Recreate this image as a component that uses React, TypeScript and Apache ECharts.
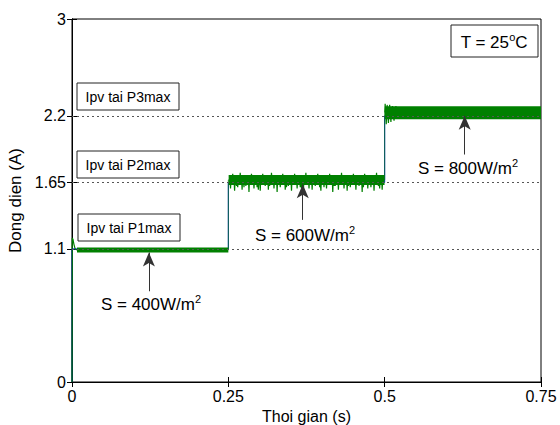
import React, { useEffect, useRef } from "react";
import * as echarts from "echarts";

// ---- axes ----
const xTicks = [0, 0.25, 0.5, 0.75];
const yTicks = [0, 1.1, 1.65, 2.2, 3];
const gridLevels = [1.1, 1.65, 2.2];

// ---- reference current (blue step) ----
const refTime = [0, 0, 0.25, 0.25, 0.5, 0.5, 0.75];
const refCurrent = [0, 1.1, 1.1, 1.65, 1.65, 2.2, 2.2];

// ---- measured current (green) ----
const startTime = [0, 0.0004, 0.0015, 0.003, 0.005, 0.008];
const startCurrent = [0, 1.19, 1.18, 1.14, 1.1, 1.09];

const riserTime = [0.25, 0.25, 0.5, 0.5];
const riserCurrent = [1.09, 1.67, 1.67, 2.225];

// ripple bands (centre of the ripple, per irradiance step)
const band1Time = [0.008, 0.25];
const band1Current = [1.09, 1.09];
const band2Time = [0.2505, 0.4998];
const band2Current = [1.67, 1.67];
const band3Time = [0.5005, 0.75];
const band3Current = [2.225, 2.225];

// ripple peaks
const seg2Spikes: [number, number][] = [
  [0.2535, 1.6], [0.257, 1.72], [0.26, 1.58], [0.263, 1.62], [0.265, 1.61], [0.269, 1.73],
  [0.272, 1.59], [0.275, 1.61], [0.278, 1.62], [0.283, 1.57], [0.287, 1.72], [0.291, 1.6],
  [0.296, 1.61], [0.298, 1.59], [0.301, 1.58], [0.305, 1.72], [0.309, 1.62], [0.314, 1.59],
  [0.316, 1.62], [0.319, 1.73], [0.323, 1.6], [0.328, 1.57], [0.333, 1.61], [0.337, 1.72],
  [0.341, 1.59], [0.343, 1.61], [0.346, 1.62], [0.351, 1.58], [0.356, 1.72], [0.36, 1.6],
  [0.365, 1.61], [0.367, 1.6], [0.37, 1.57], [0.374, 1.73], [0.379, 1.6], [0.384, 1.59],
  [0.389, 1.62], [0.393, 1.72], [0.396, 1.61], [0.398, 1.58], [0.403, 1.61], [0.407, 1.6],
  [0.412, 1.72], [0.417, 1.57], [0.419, 1.62], [0.421, 1.62], [0.426, 1.59], [0.431, 1.73],
  [0.435, 1.6], [0.44, 1.58], [0.442, 1.62], [0.445, 1.61], [0.45, 1.72], [0.454, 1.59],
  [0.459, 1.62], [0.464, 1.57], [0.466, 1.61], [0.468, 1.72], [0.473, 1.6], [0.478, 1.61],
  [0.483, 1.58], [0.487, 1.73], [0.49, 1.62], [0.492, 1.6], [0.496, 1.59],
];
const seg3Spikes: [number, number][] = [
  [0.5008, 2.3], [0.5025, 2.13], [0.504, 2.29], [0.506, 2.14], [0.508, 2.29],
  [0.51, 2.15], [0.5125, 2.28], [0.515, 2.16], [0.518, 2.28],
];

// ---- annotations ----
const arrowTime = [0.123, 0.369, 0.628];
const arrowFrom = [0.75, 1.34, 1.88];
const arrowTo = [1.07, 1.635, 2.2];

const FONT = "'Liberation Sans', Arial, sans-serif";
const GREEN = "#008000";

function zip(t: number[], v: number[]) {
  return t.map((x, i) => [x, v[i]]);
}

function spikePath(spikes: [number, number][], centre: number) {
  const out: number[][] = [];
  spikes.forEach(([t, v]) => {
    out.push([t - 0.0008, centre], [t, v], [t + 0.0008, centre]);
  });
  return out;
}

function boxLabel(x: number, y: number, w: number, h: number, text: string) {
  return {
    type: "group",
    x,
    y,
    children: [
      { type: "rect", shape: { x: 0, y: 0, width: w, height: h }, style: { fill: "#fff", stroke: "#222", lineWidth: 1 } },
      {
        type: "text",
        x: w / 2,
        y: h / 2,
        style: { text, fontSize: 14, fontFamily: FONT, fill: "#000", align: "center", verticalAlign: "middle" },
      },
    ],
  };
}

function supText(cx: number, cy: number, base: string, sup: string, tail = "") {
  return {
    type: "text",
    x: cx,
    y: cy,
    style: {
      text: `{a|${base}}{s|${sup}}` + (tail ? `{a|${tail}}` : ""),
      align: "center",
      verticalAlign: "middle",
      fill: "#000",
      rich: {
        a: { fontSize: 17, fontFamily: FONT, fill: "#000", lineHeight: 22 },
        s: { fontSize: 11, fontFamily: FONT, fill: "#000", lineHeight: 22, padding: [0, 0, 10, 0] },
      },
    },
  };
}

export default function App() {
  const ref = useRef<HTMLDivElement>(null);
  useEffect(() => {
    if (!ref.current) return;
    const chart = echarts.init(ref.current, undefined, { renderer: "svg" });
    const axisLine = { show: true, lineStyle: { color: "#000", width: 1 } };
    const tick = { show: true, inside: true, length: 5, lineStyle: { color: "#000", width: 1 } };
    chart.setOption({
      animation: false,
      backgroundColor: "#fff",
      grid: {
        left: 72,
        right: 19,
        top: 19,
        bottom: 43,
        show: true,
        borderColor: "#000",
        borderWidth: 1,
        containLabel: false,
        outerBoundsMode: "none",
      },
      xAxis: [
        {
          type: "value",
          min: 0,
          max: 0.75,
          interval: 0.25,
          position: "bottom",
          axisLine,
          axisTick: tick,
          axisLabel: {
            color: "#000",
            fontSize: 16,
            fontFamily: FONT,
            margin: 6,
            customValues: xTicks,
            formatter: (v: number) => String(v),
          },
          splitLine: { show: false },
          name: "Thoi gian (s)",
          nameLocation: "middle",
          nameGap: 22,
          nameTextStyle: { color: "#000", fontSize: 16, fontFamily: FONT },
        },
        {
          type: "value",
          min: 0,
          max: 0.75,
          interval: 0.25,
          position: "top",
          axisLine,
          axisTick: tick,
          axisLabel: { show: false },
          splitLine: { show: false },
        },
      ],
      yAxis: [
        {
          type: "value",
          min: 0,
          max: 3,
          position: "left",
          axisLine,
          axisTick: { ...tick, customValues: yTicks },
          axisLabel: {
            color: "#000",
            fontSize: 16,
            fontFamily: FONT,
            margin: 6,
            customValues: yTicks,
            formatter: (v: number) => String(v),
          },
          splitLine: { show: false },
          name: "Dong dien (A)",
          nameLocation: "middle",
          nameGap: 46,
          nameTextStyle: { color: "#000", fontSize: 17, fontFamily: FONT },
        },
        {
          type: "value",
          min: 0,
          max: 3,
          position: "right",
          axisLine,
          axisTick: { ...tick, customValues: yTicks },
          axisLabel: { show: false },
          splitLine: { show: false },
        },
      ],
      series: [
        {
          type: "line",
          name: "ref",
          z: 1,
          data: zip(refTime, refCurrent),
          showSymbol: false,
          lineStyle: { color: "#0000ff", width: 1 },
          markLine: {
            silent: true,
            symbol: "none",
            label: { show: false },
            lineStyle: { color: "#555", width: 1, type: [2, 3] },
            data: gridLevels.map((y) => ({ yAxis: y })),
          },
        },
        {
          type: "line",
          z: 2,
          data: zip(riserTime, riserCurrent),
          showSymbol: false,
          lineStyle: { color: GREEN, width: 1, opacity: 0.75 },
        },
        {
          type: "line",
          z: 3,
          data: zip(startTime, startCurrent),
          showSymbol: false,
          lineStyle: { color: GREEN, width: 1.2 },
        },
        {
          type: "line",
          z: 3,
          data: zip(band1Time, band1Current),
          showSymbol: false,
          lineStyle: { color: GREEN, width: 5, cap: "butt" },
        },
        {
          type: "line",
          z: 3,
          data: zip(band2Time, band2Current),
          showSymbol: false,
          lineStyle: { color: GREEN, width: 10, cap: "butt" },
        },
        {
          type: "line",
          z: 3,
          data: zip(band3Time, band3Current),
          showSymbol: false,
          lineStyle: { color: GREEN, width: 13, cap: "butt" },
        },
        {
          type: "line",
          z: 3,
          data: spikePath(seg2Spikes, 1.67),
          showSymbol: false,
          lineStyle: { color: GREEN, width: 1.2 },
        },
        {
          type: "line",
          z: 3,
          data: spikePath(seg3Spikes, 2.225),
          showSymbol: false,
          lineStyle: { color: GREEN, width: 1.2 },
        },
        {
          type: "line",
          z: 5,
          data: [],
          markLine: {
            silent: true,
            symbol: ["none", "arrow"],
            symbolSize: [9, 14],
            label: { show: false },
            lineStyle: { color: "#333", width: 1, type: "solid" },
            data: arrowTime.map((t, i) => [
              { coord: [t, arrowFrom[i]] },
              { coord: [t, arrowTo[i]] },
            ]),
          },
        },
      ],
      graphic: [
        boxLabel(77, 83, 102, 27, "Ipv tai P3max"),
        boxLabel(77, 151, 102, 27, "Ipv tai P2max"),
        boxLabel(78, 214, 102, 27, "Ipv tai P1max"),
        {
          type: "group",
          x: 451,
          y: 25,
          children: [
            { type: "rect", shape: { x: 0, y: 0, width: 87, height: 32 }, style: { fill: "#fff", stroke: "#222", lineWidth: 1 } },
          ],
        },
        supText(494, 42, "T = 25", "o", "C"),
        supText(151, 304, "S = 400W/m", "2"),
        supText(305, 235, "S = 600W/m", "2"),
        supText(468, 168, "S = 800W/m", "2"),
      ],
    });
    return () => chart.dispose();
  }, []);
  return (
    <div
      ref={ref}
      style={{ position: "absolute", left: 0, top: 0, width: 560, height: 425, background: "#fff" }}
    />
  );
}
